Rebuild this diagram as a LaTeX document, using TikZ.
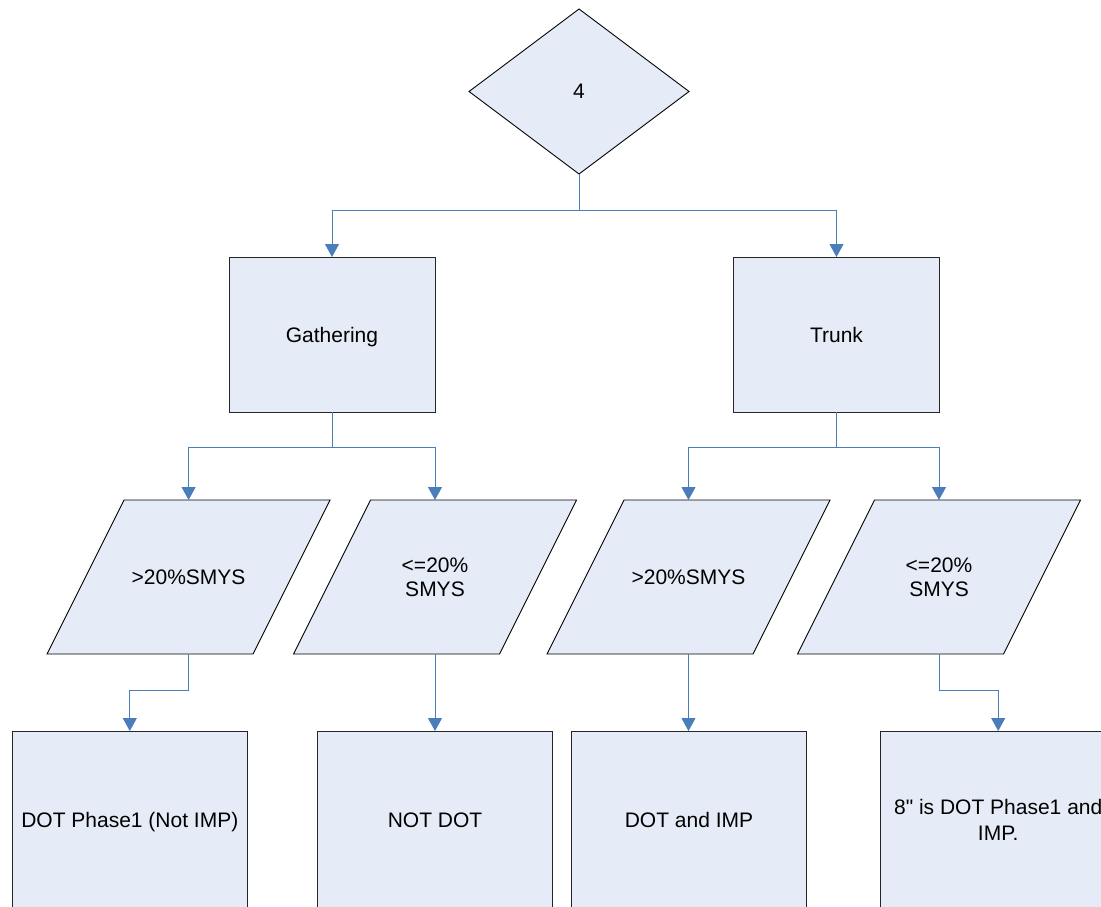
\documentclass[tikz,border=0pt]{standalone}
\usepackage{fontspec}
\setmainfont{Liberation Sans}
\newfontfamily\nolig{Liberation Sans}
\usetikzlibrary{arrows.meta,shapes.geometric}
\definecolor{boxfill}{HTML}{E6ECF7}
\definecolor{conn}{HTML}{4A7EBB}
\begin{document}
\begin{tikzpicture}[x=1pt,y=-1pt,
  every node/.style={font=\fontsize{21}{24}\selectfont, align=center, inner sep=0pt, outer sep=0pt},
  oneline/.style={text height=15pt, text depth=0pt},
  decision/.style={shape=diamond, draw=black, fill=boxfill, line width=0.9pt, minimum width=220pt, minimum height=165pt},
  procbox/.style={rectangle, draw=black!85, fill=boxfill, line width=1pt},
  upper/.style={procbox, oneline, minimum width=206pt, minimum height=155pt},
  lower/.style={procbox, minimum width=235pt, minimum height=178pt},
  paratext/.style={rectangle, minimum width=206pt, minimum height=154pt},
  parashape/.style={draw=black, fill=boxfill, line width=0.9pt, line join=miter},
  link/.style={draw=conn, line width=1pt, -{Triangle[length=13pt,width=14pt]}},
  plain/.style={draw=conn, line width=1pt}]
\useasboundingbox (0,0) rectangle (1101,907);
\clip (0,0) rectangle (1101,907);

% decision
\node[decision, oneline] (d) at (579,91.5) {4};

% second level
\node[upper] (g) at (332,334.5) {Gathering};
\node[upper] (t) at (836.5,334.5) {Trunk};

% parallelograms
\foreach \cx in {188.6, 435, 688.5, 939}{
  \path[parashape] (\cx-64.5,500) -- (\cx+141.5,500) -- (\cx+64.5,654) -- (\cx-141.5,654) -- cycle;
}
\node[paratext, oneline] (p1) at (188.6,577) {>20\%SMYS};
\node[paratext] (p2) at (435,577) {<=20\%\\SMYS};
\node[paratext, oneline] (p3) at (688.5,577) {>20\%SMYS};
\node[paratext] (p4) at (939,577) {<=20\%\\SMYS};

% bottom boxes
\node[lower, oneline] (b1) at (129.8,820) {DOT Phase1 (Not IMP)};
\node[lower, oneline] (b2) at (435,820) {NOT DOT};
\node[lower, oneline] (b3) at (689,820) {DOT and IMP};
\node[lower, font=\nolig\fontsize{21}{26}\selectfont] (b4) at (998.2,820) {8" is DOT Phase1 and\\IMP.};

% junctions
\coordinate (j0) at (579,210);
\coordinate (j1) at (332,447);
\coordinate (j2) at (836.5,447);
\coordinate (j3) at (188.6,690);
\coordinate (j4) at (939,690);

% connectors
\draw[plain] (d.south) -- (j0);
\draw[link] (j0) -| (g.north);
\draw[link] (j0) -| (t.north);
\draw[plain] (g.south) -- (j1);
\draw[link] (j1) -| (p1.north);
\draw[link] (j1) -| (p2.north);
\draw[plain] (t.south) -- (j2);
\draw[link] (j2) -| (p3.north);
\draw[link] (j2) -| (p4.north);
\draw[plain] (p1.south) -- (j3);
\draw[link] (j3) -| (b1.north);
\draw[link] (p2.south) -- (b2.north);
\draw[link] (p3.south) -- (p3.south |- b3.north);
\draw[plain] (p4.south) -- (j4);
\draw[link] (j4) -| (b4.north);
\end{tikzpicture}
\end{document}
